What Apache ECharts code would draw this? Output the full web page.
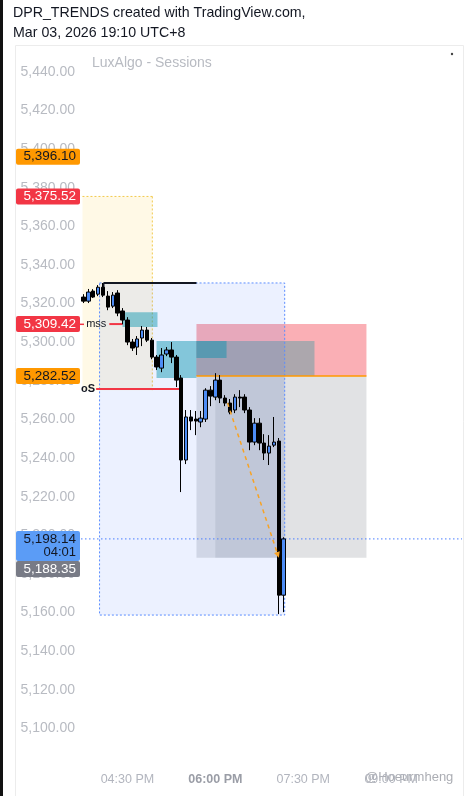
<!DOCTYPE html>
<html><head><meta charset="utf-8">
<script src="https://cdn.jsdelivr.net/npm/echarts@6/dist/echarts.min.js"></script>
<style>html,body{margin:0;padding:0;background:#fff;overflow:hidden}#c{width:466px;height:796px}</style>
</head><body><div id="c"></div>
<script>
// ---------- data ----------
const times = ('15:45 15:50 15:55 ' +
  '16:00 16:05 16:10 16:15 16:20 16:25 16:30 16:35 16:40 16:45 16:50 16:55 ' +
  '17:00 17:05 17:10 17:15 17:20 17:25 17:30 17:35 17:40 17:45 17:50 17:55 ' +
  '18:00 18:05 18:10 18:15 18:20 18:25 18:30 18:35 18:40 18:45 18:50 18:55 ' +
  '19:00 19:05 19:10 19:15 19:20 19:25 19:30 19:35 19:40 19:45 19:50 19:55 ' +
  '20:00 20:05 20:10 20:15 20:20 20:25 20:30 20:35 20:40 20:45 20:50 20:55 ' +
  '21:00 21:05 21:10 21:15 21:20 21:25 21:30 21:35 21:40 21:45 21:50 21:55 ' +
  '22:00 22:05 22:10').split(' ');
const opens  = [5323.4,5321.3,5326.5,5324.9,5328.5,5323.9,5318.7,5325.5,5316.2,5311.5,5300.1,5297.5,5302.2,5306.3,5301.1,5292.3,5286.6,5293.9,5296.0,5292.3,5281.5,5239.0,5261.3,5260.2,5258.7,5260.2,5275.2,5271.6,5280.4,5271.1,5268.5,5264.9,5271.6,5271.6,5264.9,5248.3,5258.1,5247.8,5242.6,5246.7,5248.8,5169.0];
const closes = [5321.3,5326.0,5323.4,5328.5,5324.4,5318.2,5324.4,5315.1,5311.5,5300.1,5297.0,5301.7,5306.3,5301.1,5292.3,5287.2,5293.4,5296.0,5292.3,5280.4,5239.0,5261.3,5259.2,5259.2,5260.7,5275.2,5272.1,5280.4,5271.1,5268.5,5263.8,5271.6,5271.1,5264.9,5248.3,5258.1,5247.8,5242.6,5246.2,5248.3,5169.0,5198.14];
const lows   = [5320.3,5320.3,5322.9,5323.9,5323.4,5316.6,5317.7,5313.5,5309.3,5298.5,5295.5,5293.4,5298.0,5300.1,5291.2,5285.6,5284.5,5292.8,5289.2,5276.8,5222.4,5236.9,5254.5,5251.9,5256.0,5258.7,5266.9,5270.0,5268.5,5266.9,5262.7,5263.3,5266.4,5263.3,5244.1,5246.7,5244.1,5239.0,5236.4,5245.7,5159.2,5160.2];
const highs  = [5324.9,5327.6,5327.5,5329.6,5330.7,5326.5,5326.0,5327.0,5317.7,5313.0,5301.7,5303.2,5308.4,5307.9,5302.2,5293.4,5297.0,5297.5,5300.1,5293.4,5283.0,5264.9,5264.9,5264.4,5264.4,5276.2,5277.3,5284.0,5283.0,5272.6,5270.6,5273.1,5275.2,5273.1,5266.4,5260.7,5260.7,5252.4,5251.9,5261.3,5250.4,5199.0];

const xTickTimes  = ['16:30','18:00','19:30','21:00'];
const xTickLabels = ['04:30 PM','06:00 PM','07:30 PM','09:00 PM'];
const yTicks = [5100,5120,5140,5160,5180,5200,5220,5240,5260,5280,5300,5320,5340,5360,5380,5400,5420,5440];

// zones: x in bar index units, prices top/bottom
const zoneX0     = [-0.2, 23.14, 27.0, 23.14, 23.14, 8.0, 14.96, 14.96, 3.3];
const zoneX1     = [14.1, 57.94, 41.2, 57.94, 47.3, 15.16, 29.3, 23.14, 41.2];
const zoneTop    = [5375.52, 5282.52, 5282.52, 5309.42, 5300.6, 5315.6, 5300.6, 5291.8, 5330.7];
const zoneBottom = [5275.2, 5188.35, 5188.35, 5282.52, 5282.52, 5307.9, 5291.8, 5281.5, 5158.7];

// level lines
const levelX0    = [4.1, 5.3, 2.6, 23.14];
const levelX1    = [23.14, 8.0, 20.2, 57.94];
const levelPrice = [5330.7, 5309.42, 5275.8, 5282.52];
const levelText  = ['', 'mss', 'oS', ''];

// projection arrow
const arrowX = [29.5, 40.0];
const arrowY = [5268.5, 5188.35];

const lastPrice = 5198.14;
const tagPrices = [5396.10, 5375.52, 5309.42, 5282.52, 5198.14, 5188.35];
const tagTexts  = ['5,396.10', '5,375.52', '5,309.42', '5,282.52', '5,198.14', '5,188.35'];
const countdown = '04:01';

// ---------- styles ----------
const zoneFill = ['rgba(255,193,7,0.10)','rgba(120,123,134,0.22)','rgba(120,123,134,0.16)','rgba(242,54,69,0.40)',
  'rgba(165,166,172,0.92)','rgba(0,151,167,0.45)','rgba(0,151,167,0.45)','rgba(0,151,167,0.45)','rgba(41,98,255,0.09)'];
const levelColor = ['#131722','#f23645','#f23645','#ff9800'];
const levelWidth = [2,2,2,1.5];
const tagFill = ['#ff9800','#f23645','#f23645','#ff9800','#5b9cf6','#787b86'];
const tagInk  = ['#131722','#ffffff','#ffffff','#131722','#131722','#ffffff'];
const FONT = '"Liberation Sans", Arial, sans-serif';

const chart = echarts.init(document.getElementById('c'), null, {renderer:'canvas'});
const N = times.length;

const candleData = times.map((t,i) => i < opens.length ? [opens[i], closes[i], lows[i], highs[i]] : '-');
const zoneData = zoneX0.map((x,i) => [x, zoneX1[i], zoneTop[i], zoneBottom[i]]);
const levelData = levelX0.map((x,i) => [x, levelX1[i], levelPrice[i]]);

function zoneRender(params, api) {
  const i = params.dataIndex;
  const p0 = api.coord([api.value(0), api.value(2)]);
  const p1 = api.coord([api.value(1), api.value(3)]);
  const children = [{type:'rect', shape:{x:p0[0], y:p0[1], width:p1[0]-p0[0], height:p1[1]-p0[1]}, style:{fill:zoneFill[i]}}];
  if (i === 0) {
    const st = {stroke:'#f2c94c', lineWidth:1, lineDash:[2,2]};
    children.push({type:'line', shape:{x1:p0[0], y1:p0[1], x2:p1[0], y2:p0[1]}, style:st});
    children.push({type:'line', shape:{x1:p1[0], y1:p0[1], x2:p1[0], y2:p1[1]}, style:st});
  }
  if (i === 8) {
    children[0].style = {fill:zoneFill[i], stroke:'#5a8cff', lineWidth:1, lineDash:[2,2]};
  }
  return {type:'group', children};
}

function levelRender(params, api) {
  const i = params.dataIndex;
  const p0 = api.coord([api.value(0), api.value(2)]);
  const p1 = api.coord([api.value(1), api.value(2)]);
  const children = [{type:'line', shape:{x1:p0[0], y1:p0[1], x2:p1[0], y2:p1[1]}, style:{stroke:levelColor[i], lineWidth:levelWidth[i]}}];
  if (i === 0) {
    const p2 = api.coord([api.value(0), api.value(2) - 3.5]);
    children.push({type:'line', shape:{x1:p0[0], y1:p0[1], x2:p0[0], y2:p2[1]}, style:{stroke:levelColor[i], lineWidth:2}});
  }
  if (levelText[i]) {
    children.push({type:'text', x: i === 1 ? p0[0]-3 : p0[0]-1, y:p0[1], style:{text:levelText[i], fill:'#131722', font:(i === 2 ? 'bold ' : '') + '11px ' + FONT, align:'right', verticalAlign:'middle'}});
  }
  return {type:'group', children};
}

function arrowRender(params, api) {
  const a = api.coord([arrowX[0], arrowY[0]]);
  const b = api.coord([arrowX[1], arrowY[1]]);
  const ang = Math.atan2(b[1]-a[1], b[0]-a[0]);
  const L = 6, W = 3;
  const bx = b[0] - L*Math.cos(ang), by = b[1] - L*Math.sin(ang);
  return {type:'group', children:[
    {type:'line', shape:{x1:a[0], y1:a[1], x2:bx, y2:by}, style:{stroke:'#f7a325', lineWidth:1.5, lineDash:[4,4]}},
    {type:'polygon', shape:{points:[[b[0],b[1]],[bx - W*Math.sin(ang), by + W*Math.cos(ang)],[bx + W*Math.sin(ang), by - W*Math.cos(ang)]]}, style:{fill:'#f7a325'}}
  ]};
}

function priceLineRender(params, api) {
  const a = api.coord([-0.5, lastPrice]);
  const b = api.coord([N - 0.5, lastPrice]);
  return {type:'line', shape:{x1:a[0], y1:a[1], x2:b[0], y2:b[1]}, style:{stroke:'#4a7dff', lineWidth:1, lineDash:[1.5,2.5]}};
}

const option = {
  animation: false,
  backgroundColor: '#fff',
  grid: {left:81, width:381, top:43, height:724, containLabel:false},
  xAxis: [
    {type:'category', data:times, boundaryGap:true,
     axisLine:{show:false}, axisTick:{show:false}, splitLine:{show:false},
     axisLabel:{interval:(idx, val) => xTickTimes.indexOf(val) >= 0, margin:6, fontFamily:FONT, fontSize:12.5, color:'#b2b5be',
       formatter:(val) => { const k = xTickTimes.indexOf(val); return k === 1 ? '{b|' + xTickLabels[k] + '}' : xTickLabels[k]; },
       rich:{b:{fontWeight:'bold', color:'#9a9da6', fontSize:12.5, fontFamily:FONT}}}},
    {type:'value', min:-0.5, max:N-0.5, show:false}
  ],
  yAxis: {type:'value', min:5080, max:5455, interval:20, position:'left', scale:true,
    axisLine:{show:false}, axisTick:{show:false}, splitLine:{show:false},
    axisLabel:{margin:6, fontFamily:FONT, fontSize:14, color:'#b8bbc2',
      formatter:(v) => yTicks.indexOf(v) >= 0 ? v.toLocaleString('en-US',{minimumFractionDigits:2, maximumFractionDigits:2}) : ''}},
  series: [
    {type:'custom', xAxisIndex:1, yAxisIndex:0, renderItem:zoneRender, data:zoneData, z:1, silent:true,
     encode:{x:[0,1], y:[2,3]}},
    {type:'custom', xAxisIndex:1, yAxisIndex:0, renderItem:levelRender, data:levelData, z:3, silent:true,
     encode:{x:[0,1], y:[2]}},
    {type:'custom', xAxisIndex:1, yAxisIndex:0, renderItem:priceLineRender, data:[[0, lastPrice]], z:3, silent:true, clip:false},
    {type:'candlestick', xAxisIndex:0, yAxisIndex:0, data:candleData, barWidth:4, z:5,
     itemStyle:{color:'#4d8cf5', color0:'#000000', borderColor:'#000000', borderColor0:'#000000', borderWidth:1}},
    {type:'custom', xAxisIndex:1, yAxisIndex:0, renderItem:arrowRender, data:[[arrowX[0], arrowY[0]]], z:6, silent:true}
  ],
  graphic: [
    {type:'rect', left:0, top:0, shape:{width:3, height:796}, style:{fill:'#111'}},
    {type:'rect', left:13, top:43, shape:{width:448, height:760}, style:{fill:'none', stroke:'#ececec', lineWidth:1}},
    {type:'text', left:13, top:6, style:{text:'DPR_TRENDS created with TradingView.com,', font:'14.2px ' + FONT, fill:'#131722'}},
    {type:'text', left:13, top:26, style:{text:'Mar 03, 2026 19:10 UTC+8', font:'14.2px ' + FONT, fill:'#131722'}},
    {type:'text', left:92, top:56, style:{text:'LuxAlgo - Sessions', font:'14px ' + FONT, fill:'#b8bbc2'}},
    {type:'circle', shape:{cx:452, cy:54, r:1.2}, style:{fill:'#444'}},
    {type:'text', left:365, top:771, style:{text:'@Hoeurmheng', font:'13px ' + FONT, fill:'rgba(150,153,160,0.8)'}}
  ]
};
chart.setOption(option);

// price tags on the axis
const tags = [];
let prevBottom = -1;
tagPrices.forEach((p, i) => {
  const y = chart.convertToPixel({yAxisIndex:0}, p);
  const h = i === 4 ? 30 : 16;
  let top = y - 8;
  if (i === 5) top = Math.max(top, prevBottom);
  tags.push({type:'rect', z:100, zlevel:1, shape:{x:16, y:top, width:64, height:h, r:2}, style:{fill:tagFill[i]}});
  tags.push({type:'text', z:101, zlevel:1, x:76, y:top + 8, style:{text:tagTexts[i], font:'13.5px ' + FONT, fill:tagInk[i], align:'right', verticalAlign:'middle'}});
  if (i === 4) tags.push({type:'text', z:101, zlevel:1, x:76, y:top + 22, style:{text:countdown, font:'13px ' + FONT, fill:tagInk[i], align:'right', verticalAlign:'middle'}});
  if (i === 2) tags.push({type:'rect', z:100, zlevel:1, shape:{x:80, y:y - 0.5, width:4, height:1.5}, style:{fill:'#f23645'}});
  prevBottom = top + h;
});
chart.setOption({graphic: option.graphic.concat(tags)});
</script>
</body></html>
